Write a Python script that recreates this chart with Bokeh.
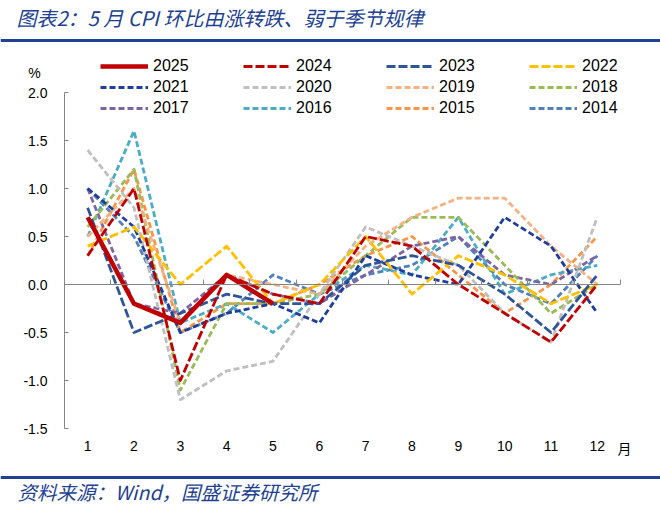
from bokeh.plotting import figure
from bokeh.models import (LinearAxis, FixedTicker, NumeralTickFormatter, Range1d,
                          Legend, LegendItem, Label, BoxAnnotation)
from bokeh.embed import file_html
from bokeh.resources import INLINE

# ---------------- data ----------------
months = [1, 2, 3, 4, 5, 6, 7, 8, 9, 10, 11, 12]
years = ["2025", "2024", "2023", "2022", "2021", "2020", "2019", "2018", "2017", "2016", "2015", "2014"]
v2025 = [0.7, -0.2, -0.4, 0.1, -0.2]
v2024 = [0.3, 1.0, -1.0, 0.1, -0.1, -0.2, 0.5, 0.4, 0.0, -0.3, -0.6, 0.0]
v2023 = [0.8, -0.5, -0.3, -0.1, -0.2, -0.2, 0.2, 0.3, 0.2, -0.1, -0.5, 0.1]
v2022 = [0.4, 0.6, 0.0, 0.4, -0.2, 0.0, 0.5, -0.1, 0.3, 0.1, -0.2, 0.0]
v2021 = [1.0, 0.6, -0.5, -0.3, -0.2, -0.4, 0.3, 0.1, 0.0, 0.7, 0.4, -0.3]
v2020 = [1.4, 0.8, -1.2, -0.9, -0.8, -0.1, 0.6, 0.4, 0.2, -0.3, -0.6, 0.7]
v2019 = [0.5, 1.0, -0.4, 0.1, 0.0, -0.1, 0.4, 0.7, 0.9, 0.9, 0.4, 0.0]
v2018 = [0.6, 1.2, -1.1, -0.2, -0.2, -0.1, 0.3, 0.7, 0.7, 0.2, -0.3, 0.0]
v2017 = [1.0, -0.2, -0.3, 0.1, -0.1, -0.2, 0.1, 0.4, 0.5, 0.1, 0.0, 0.3]
v2016 = [0.5, 1.6, -0.4, -0.2, -0.5, -0.1, 0.2, 0.1, 0.7, -0.1, 0.1, 0.2]
v2015 = [0.3, 1.2, -0.5, -0.2, -0.2, 0.0, 0.3, 0.5, 0.1, -0.3, 0.0, 0.5]
v2014 = [1.0, 0.5, -0.5, -0.3, 0.1, -0.1, 0.1, 0.2, 0.5, 0.0, -0.2, 0.3]
values = {"2025": v2025, "2024": v2024, "2023": v2023, "2022": v2022, "2021": v2021,
          "2020": v2020, "2019": v2019, "2018": v2018, "2017": v2017, "2016": v2016,
          "2015": v2015, "2014": v2014}
y_ticks = [-1.5, -1.0, -0.5, 0.0, 0.5, 1.0, 1.5, 2.0]
title_text = "图表2：5 月 CPI 环比由涨转跌、弱于季节规律"
source_text = "资料来源：Wind，国盛证券研究所"

# ---------------- styles ----------------
colors = {"2025": "#C00000", "2024": "#C00000", "2023": "#2F5597", "2022": "#FFC000",
          "2021": "#1F3E9C", "2020": "#BFBFBF", "2019": "#F4B183", "2018": "#9BBB59",
          "2017": "#8064A2", "2016": "#4BACC6", "2015": "#F79646", "2014": "#4F81BD"}
dashes = {y: "6 3" for y in years}
dashes.update({"2025": "solid", "2024": "9 3", "2023": "9 3", "2022": "9 3"})
widths = {y: 2.8 for y in years}
widths["2025"] = 4.5

FONT = "Liberation Sans"
CJK = "Noto Sans CJK SC"
BLUE = "#213F93"
W, H = 660, 507
# plot-area placement in canvas pixels
PX_LEFT, PX_RIGHT = 64.0, 620.0     # x = 0.5 and x = 12.5
PX_TOP, PX_BOTTOM = 92.0, 428.0     # y = 2.0 and y = -1.5
X_LO, X_HI, Y_LO, Y_HI = 0.5, 12.5, -1.5, 2.0

xs = (X_HI - X_LO) / (PX_RIGHT - PX_LEFT)
ys = (Y_HI - Y_LO) / (PX_BOTTOM - PX_TOP)
x_range = Range1d(X_LO - PX_LEFT * xs, X_HI + (W - PX_RIGHT) * xs)
y_range = Range1d(Y_LO - (H - PX_BOTTOM) * ys, Y_HI + PX_TOP * ys)

p = figure(width=W, height=H, x_range=x_range, y_range=y_range, title=None,
           x_axis_type=None, y_axis_type=None, output_backend="svg", toolbar_location=None,
           min_border=0, min_border_left=0, min_border_right=0, min_border_top=0,
           min_border_bottom=0)
p.outline_line_color = None
p.xgrid.visible = False
p.ygrid.visible = False
p.background_fill_color = "white"
p.border_fill_color = "white"

# y axis
yax = LinearAxis(ticker=FixedTicker(ticks=y_ticks), formatter=NumeralTickFormatter(format="0.0"),
                 fixed_location=X_LO, bounds=(Y_LO, Y_HI))
yax.axis_line_color = "#868686"
yax.major_tick_line_color = "#868686"
yax.major_tick_in = 4
yax.major_tick_out = 0
yax.minor_tick_line_color = None
yax.major_label_text_font = FONT
yax.major_label_text_font_size = "14px"
yax.major_label_text_color = "#000000"
yax.major_label_standoff = 17
p.add_layout(yax, "left")

# month labels under the plot area
xlab = LinearAxis(ticker=FixedTicker(ticks=months), fixed_location=Y_LO, bounds=(X_LO, X_HI))
xlab.axis_line_color = None
xlab.major_tick_line_color = None
xlab.minor_tick_line_color = None
xlab.major_tick_in = 0
xlab.major_tick_out = 0
xlab.major_label_text_font = FONT
xlab.major_label_text_font_size = "14px"
xlab.major_label_text_color = "#000000"
xlab.major_label_standoff = 12
p.add_layout(xlab, "below")

# zero line with category boundary ticks
zax = LinearAxis(ticker=FixedTicker(ticks=[m - 0.5 for m in months] + [12.5]),
                 fixed_location=0, bounds=(X_LO, X_HI))
zax.axis_line_color = "#868686"
zax.major_tick_line_color = "#868686"
zax.major_tick_in = 5
zax.major_tick_out = 0
zax.minor_tick_line_color = None
zax.major_label_text_alpha = 0
zax.major_label_text_font_size = "1px"
zax.major_label_standoff = 0
p.add_layout(zax, "below")

# lines
renderers = {}
for y in reversed(years):
    vals = values[y]
    r = p.line(months[:len(vals)], vals, line_color=colors[y], line_width=widths[y],
               line_dash=dashes[y], line_join="round")
    renderers[y] = r

legend = Legend(items=[LegendItem(label=y, renderers=[renderers[y]]) for y in years],
                orientation="horizontal", ncols=4, location=(100, H - 117))
legend.glyph_width = 48
legend.glyph_height = 14
legend.label_height = 14
legend.label_standoff = 5
legend.spacing = 3
legend.label_width = 87
legend.padding = 0
legend.margin = 0
legend.border_line_color = None
legend.background_fill_alpha = 0
legend.label_text_font = FONT
legend.label_text_font_size = "16px"
legend.label_text_color = "#000000"
p.add_layout(legend, "center")


def add_label(text, px, py, size, font, color="#000000", style="normal", align="left"):
    p.add_layout(Label(x=px, y=H - py, x_units="screen", y_units="screen", text=text,
                       text_font=font, text_font_size=size, text_color=color,
                       text_font_style=style, text_align=align, text_baseline="middle"))


add_label(title_text, 16, 17, "20px", CJK, BLUE, "italic")
add_label(source_text, 17, 491, "19.5px", CJK, BLUE, "italic")
add_label("%", 34, 72, "14px", FONT, align="center")
add_label("月", 624, 447, "14px", CJK, align="center")

for py in (40, 477):
    p.add_layout(BoxAnnotation(left=0, right=W, top=H - py + 1.5, bottom=H - py - 1.5,
                               left_units="screen", right_units="screen",
                               top_units="screen", bottom_units="screen",
                               fill_color=BLUE, fill_alpha=1, line_color=None))

open("out.html", "w").write(file_html(p, INLINE))
